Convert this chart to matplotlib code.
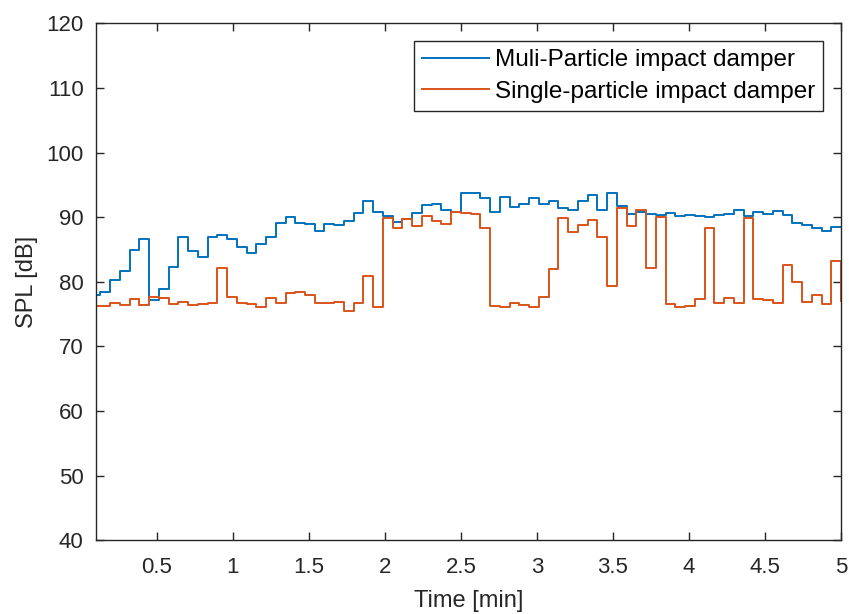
import numpy as np
import matplotlib
matplotlib.use("Agg")
import matplotlib.pyplot as plt

plt.rcParams['font.family'] = ['Liberation Sans', 'DejaVu Sans']

# sampled time grid (min): 78 samples, ending at 5.0 min
t_start = 0.0643
t_end = 5.0
n_samples = 78

multi = [78.0, 78.5, 80.3, 81.7, 85.0, 86.6, 77.2, 78.9, 82.3, 87.0,
         84.7, 83.8, 86.9, 87.2, 86.7, 85.4, 84.5, 85.8, 86.9, 89.1,
         90.0, 89.05, 88.9, 87.8, 88.9, 88.8, 89.35, 90.6, 92.45, 90.8,
         90.2, 89.3, 89.7, 90.6, 91.9, 92.1, 91.1, 90.85, 93.7, 93.7,
         92.9, 90.85, 93.2, 91.6, 92.0, 92.9, 92.1, 92.45, 91.4, 91.1,
         92.55, 93.5, 91.1, 93.7, 91.7, 90.5, 90.8, 90.5, 90.3, 90.7,
         90.2, 90.3, 90.2, 90.1, 90.4, 90.5, 91.1, 90.2, 90.8, 90.5,
         90.9, 90.4, 89.15, 88.8, 88.3, 87.9, 88.5, 88.5]

single = [76.25, 76.25, 76.7, 76.4, 77.3, 76.4, 77.65, 77.5, 76.6, 76.9,
          76.4, 76.6, 76.7, 82.1, 77.6, 76.8, 76.5, 76.15, 77.5, 76.7,
          78.3, 78.4, 77.95, 76.7, 76.8, 76.9, 75.5, 76.8, 80.9, 76.15,
          89.8, 88.4, 89.7, 88.6, 90.2, 89.35, 89.0, 90.8, 90.7, 90.5,
          88.3, 76.25, 76.15, 76.7, 76.4, 76.15, 77.6, 82.0, 89.8, 87.75,
          88.8, 89.6, 87.0, 79.35, 91.4, 88.6, 91.1, 82.1, 90.1, 76.6,
          76.15, 76.25, 77.3, 88.3, 76.7, 77.45, 76.8, 89.9, 77.3, 77.2,
          76.8, 82.65, 79.9, 76.9, 77.95, 76.6, 83.2, 77.0]

labels = ['Muli-Particle impact damper', 'Single-particle impact damper']
x_ticks = [0.5, 1, 1.5, 2, 2.5, 3, 3.5, 4, 4.5, 5]
x_ticklabels = ['0.5', '1', '1.5', '2', '2.5', '3', '3.5', '4', '4.5', '5']
y_ticks = [40, 50, 60, 70, 80, 90, 100, 110, 120]

time = np.linspace(t_start, t_end, n_samples)

fig = plt.figure(figsize=(8.49, 6.14), dpi=100)
ax = fig.add_axes([0.1131, 0.120, 0.8775, 0.842])

ax.step(time, multi, where='post', color='#0072BD', lw=1.4, label=labels[0])
ax.step(time, single, where='post', color='#D95319', lw=1.4, label=labels[1])

ax.set_xlim(0.1, 5)
ax.set_ylim(40, 120)
ax.set_xticks(x_ticks)
ax.set_xticklabels(x_ticklabels)
ax.set_yticks(y_ticks)

fs_tick = 16.0
fs_lab = 17.0
fs_leg = 17.5
axc = '#262626'
for s in ax.spines.values():
    s.set_color(axc)
    s.set_linewidth(1.0)
ax.tick_params(direction='in', length=5.8, width=1.0, colors=axc,
               labelcolor='#262626', labelsize=fs_tick, top=True, right=True)
ax.tick_params(axis='x', pad=12)
ax.tick_params(axis='y', pad=9)
ax.set_xlabel('Time [min]', fontsize=fs_lab, color='#262626', labelpad=8.5)
ax.set_ylabel('SPL [dB]', fontsize=fs_lab, color='#262626', labelpad=6)

leg = ax.legend(loc='upper right', fontsize=fs_leg, frameon=True, fancybox=False,
                edgecolor=axc, framealpha=1, borderaxespad=0.74,
                handlelength=2.75, handletextpad=0.25, borderpad=0.33,
                labelspacing=0.38)
leg.get_frame().set_linewidth(1.0)

fig.savefig('out.png', dpi=100)
